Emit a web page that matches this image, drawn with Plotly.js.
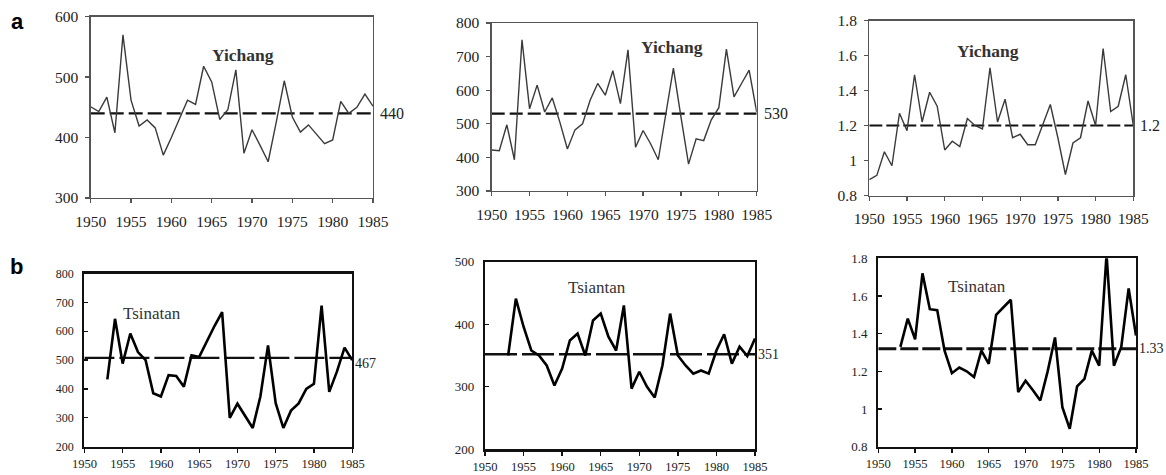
<!DOCTYPE html>
<html>
<head>
<meta charset="utf-8">
<script src="https://cdn.plot.ly/plotly-3.0.1.min.js"></script>
<style>html,body{margin:0;padding:0;background:#fff;}#chart{width:1166px;height:475px;}</style>
</head>
<body>
<div id="chart"></div>
<script>
// ---------- data ----------
const years = [1950,1951,1952,1953,1954,1955,1956,1957,1958,1959,1960,1961,1962,1963,1964,1965,1966,1967,1968,1969,1970,1971,1972,1973,1974,1975,1976,1977,1978,1979,1980,1981,1982,1983,1984,1985];
const tickYears = [1950,1955,1960,1965,1970,1975,1980,1985];

const yichangA = [451,443,467,408,570,462,419,429,416,371,400,432,462,455,518,492,430,446,512,374,413,387,360,425,494,434,409,421,405,390,396,460,440,450,472,452];
const yichangB = [422,420,497,393,750,545,615,535,577,505,425,482,500,570,620,585,658,560,720,430,480,440,393,530,666,520,380,455,450,512,548,722,580,620,660,535];
const yichangC = [0.89,0.915,1.05,0.97,1.27,1.17,1.49,1.22,1.39,1.31,1.06,1.11,1.08,1.24,1.20,1.18,1.53,1.22,1.35,1.13,1.15,1.09,1.09,1.20,1.32,1.13,0.92,1.10,1.13,1.34,1.20,1.64,1.28,1.31,1.49,1.20];

const tsinatanA = [null,null,null,433,643,488,592,528,500,385,374,448,445,408,517,511,565,618,666,300,349,305,265,374,551,351,265,325,350,400,418,689,390,460,543,500];
const tsiantanB = [null,null,null,350,441,396,358,350,334,302,329,374,385,350,406,417,380,358,430,297,324,300,283,334,417,350,334,321,326,321,358,384,337,364,349,377];
const tsinatanC = [null,null,null,1.33,1.48,1.37,1.72,1.53,1.525,1.31,1.19,1.22,1.20,1.17,1.31,1.24,1.50,1.54,1.58,1.09,1.15,1.10,1.045,1.20,1.38,1.01,0.895,1.12,1.16,1.31,1.23,1.82,1.23,1.33,1.64,1.39];

const meanLevels = [440, 530, 1.2, 508, 352, 1.32];
const meanLabels = ["440", "530", "1.2", "467", "351", "1.33"];
const stationNames = ["Yichang", "Yichang", "Yichang", "Tsinatan", "Tsiantan", "Tsinatan"];
const panelLetters = ["a", "b"];

const yRanges = [[300,600],[300,800],[0.8,1.8],[200,800],[200,500],[0.8,1.8]];
const yDticks = [100,100,0.2,100,100,0.2];
const series = [yichangA, yichangB, yichangC, tsinatanA, tsiantanB, tsinatanC];

// ---------- layout (pixel boxes) ----------
const W = 1166, H = 475;
const boxes = [
  {l:90.7, r:373, t:16.7, b:198},
  {l:491.7, r:756.7, t:23, b:191},
  {l:869.3, r:1133.3, t:20.5, b:195.5},
  {l:84.4, r:352.2, t:273.5, b:446.7},
  {l:485, r:755, t:261.7, b:449.3},
  {l:878.3, r:1136, t:258.3, b:446.7}
];
// station label positions in data coords [x, y]
const namePos = [[1968.9,537],[1973.8,729],[1965.7,1.625],[1958.8,663],[1964.5,459],[1963.4,1.648]];
const dashStyles = ["14px,5px", "13px,5px", "13px,4px", "30px,5px", "32px,5px", "18px,4px"];
const dashWidths = [2.2, 2.2, 2.2, 2.3, 2.3, 3.2];

const serif = "Liberation Serif, Times New Roman, serif";
const traces = [];
const layout = {
  width: W, height: H,
  margin: {l:0, r:0, t:0, b:0},
  paper_bgcolor: "#fff", plot_bgcolor: "#fff",
  showlegend: false,
  annotations: []
};

for (let i = 0; i < 6; i++) {
  const rowA = i < 3;
  const bx = boxes[i];
  const sfx = i === 0 ? "" : String(i + 1);
  const xa = "x" + sfx, ya = "y" + sfx;
  const frameCol = rowA ? "#555" : "#111";
  const frameW = rowA ? 1.3 : 2.2;
  const tickSize = rowA ? 15.5 : 12.5;
  const ytickSize = rowA ? 15.5 : (i === 3 ? 12 : 13);

  layout["xaxis" + sfx] = {
    domain: [bx.l / W, bx.r / W],
    anchor: ya,
    range: [1950, 1985],
    tickvals: tickYears,
    ticktext: tickYears.map(String),
    ticks: "outside", ticklen: 4, tickwidth: 1.3, tickcolor: frameCol,
    showline: true, mirror: true, linecolor: frameCol, linewidth: frameW,
    showgrid: false, zeroline: false,
    tickfont: {family: serif, size: tickSize, color: "#222"},
    ticklabelstandoff: rowA ? 5 : 0
  };
  layout["yaxis" + sfx] = {
    domain: [1 - bx.b / H, 1 - bx.t / H],
    anchor: xa,
    range: yRanges[i],
    dtick: yDticks[i],
    tick0: yRanges[i][0],
    ticks: rowA ? "outside" : "inside", ticklen: 4, tickwidth: 1.3, tickcolor: frameCol,
    showline: true, mirror: true, linecolor: frameCol, linewidth: frameW,
    showgrid: false, zeroline: false,
    tickfont: {family: serif, size: ytickSize, color: "#222"},
    ticklabelstandoff: rowA ? 4 : 6
  };

  // mean dashed line
  traces.push({
    type: "scatter", mode: "lines", xaxis: xa, yaxis: ya,
    x: [1950, 1985], y: [meanLevels[i], meanLevels[i]],
    line: {color: "#111", width: dashWidths[i], dash: dashStyles[i]},
    hoverinfo: "skip"
  });
  // series line
  traces.push({
    type: "scatter", mode: "lines", xaxis: xa, yaxis: ya,
    x: years, y: series[i],
    line: {color: rowA ? "#3a3a3a" : "#000", width: rowA ? 1.4 : 2.6},
    connectgaps: false, hoverinfo: "skip"
  });

  layout.annotations.push({
    xref: xa, yref: ya, x: namePos[i][0], y: namePos[i][1],
    text: rowA ? "<b>" + stationNames[i] + "</b>" : stationNames[i],
    showarrow: false, xanchor: "center", yanchor: "middle",
    font: {family: serif, size: rowA ? 17.5 : 17, color: "#333"}
  });
  layout.annotations.push({
    xref: xa, yref: ya, x: 1985, y: meanLevels[i],
    text: meanLabels[i], showarrow: false, xanchor: "left", yanchor: "middle",
    xshift: rowA ? 5 : 1, yshift: i === 3 ? -6 : 0,
    font: {family: serif, size: rowA ? 16 : 14, color: "#222"}
  });
}

layout.annotations.push({xref:"paper", yref:"paper", x: 9/W, y: 1 - 21/H, text: "<b>" + panelLetters[0] + "</b>",
  showarrow:false, xanchor:"left", yanchor:"middle", font:{family:"Liberation Sans, Arial, sans-serif", size:22, color:"#000"}});
layout.annotations.push({xref:"paper", yref:"paper", x: 8/W, y: 1 - 266/H, text: "<b>" + panelLetters[1] + "</b>",
  showarrow:false, xanchor:"left", yanchor:"middle", font:{family:"Liberation Sans, Arial, sans-serif", size:22, color:"#000"}});

Plotly.newPlot("chart", traces, layout, {staticPlot: true, displayModeBar: false});
</script>
</body>
</html>
